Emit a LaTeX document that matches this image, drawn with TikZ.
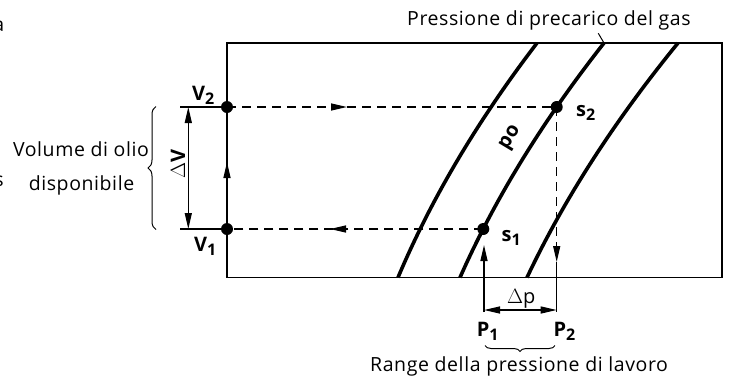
\documentclass[tikz,border=0pt]{standalone}
\usepackage{fontspec}
\setmainfont{Open Sans}[LetterSpace=3]
\usetikzlibrary{arrows.meta,decorations.markings,decorations.pathreplacing}
\newcommand{\txtsize}{\fontsize{19.5}{23}\selectfont}
\newcommand{\lblsize}{\fontsize{20}{23}\selectfont}
\newcommand{\mysubsc}[1]{\raisebox{-3.5pt}{\fontsize{16}{16}\selectfont #1}}
\tikzset{
  mytip/.tip={Triangle[length=16pt,width=7pt]},
  thinline/.style={line width=1.3pt},
  curveline/.style={line width=3.6pt},
  dashline/.style={line width=1.3pt, dash pattern=on 9pt off 6pt},
  dot/.style={circle, fill=black, inner sep=0pt, minimum size=12pt},
  txt/.style={font=\txtsize, inner sep=0pt},
  lbl/.style={font=\lblsize\bfseries, inner sep=0pt},
  bracestyle/.style={line width=1pt, decorate},
  midarrow/.style={postaction={decorate}, decoration={markings, mark=at position #1 with {\arrow{mytip}}}}
}
\begin{document}
\begin{tikzpicture}[x=1pt,y=-1pt]
\useasboundingbox (0,0) rectangle (729,376);
\clip (0,0) rectangle (729,376);
% frame
\coordinate (TL) at (227,43);
\coordinate (BR) at (722,277.5);
\draw[thinline] (TL) rectangle (BR);
% curves
\draw[curveline] (537,43) .. controls (477.4,121) and (431.1,199) .. (398,277.5);
\draw[curveline] (604,43) .. controls (542.7,121) and (494.7,199) .. (460,277.5);
\draw[curveline] (678,43) .. controls (614.4,121) and (564.1,199) .. (527,277.5);
% points
\coordinate (V2) at (227,107);
\coordinate (V1) at (227,229);
\coordinate (S2) at (556.7,107);
\coordinate (S1) at (483.3,229);
\coordinate (V2ext) at (180,107);
\coordinate (V1ext) at (180,229);
\coordinate (DV2) at (188.3,107);
\coordinate (DV1) at (188.3,229);
\coordinate (P2tip) at (556.7,262);
\coordinate (P2bot) at (556.7,312);
\coordinate (P1tip) at (484,245);
\coordinate (P1bot) at (484,312);
\coordinate (DP1) at (484,310);
\coordinate (DP2) at (556.7,310);
% extension lines
\draw[thinline] (V2ext) -- (V2);
\draw[thinline] (V1ext) -- (V1);
\draw[thinline, {mytip}-{mytip}] (DV2) -- (DV1);
% cycle
\draw[thinline, midarrow=0.549] (V1) -- (V2);
\draw[dashline, midarrow=0.364] (V2) -- (S2);
\draw[dashline, midarrow=0.598] (S1) -- (V1);
\draw[dashline, -{mytip}] (S2) -- (P2tip);
\draw[thinline] (P2tip) -- (P2bot);
\draw[thinline, -{mytip}] (P1bot) -- (P1tip);
\draw[thinline, {mytip}-{mytip}] (DP1) -- (DP2);
% dots
\node[dot] (d1) at (V2) {};
\node[dot] (d2) at (V1) {};
\node[dot] (d3) at (S2) {};
\node[dot] (d4) at (S1) {};
% leader
\coordinate (lead1) at (598.3,33.3);
\coordinate (lead2) at (604,43);
\draw[line width=1pt] (lead1) -- (lead2);
% braces
\draw[bracestyle, decoration={brace, amplitude=8pt}] (156,229.5) -- (156,106.5);
\draw[bracestyle, decoration={brace, amplitude=6pt}] (555,345.5) -- (485,345.5);
% texts
\node[txt, anchor=base west] (tpre) at (407,25.7) {Pressione di precarico del gas};
\node[txt, anchor=base west] (trange) at (370,371.7) {Range della pressione di lavoro};
\node[txt, anchor=base] (tvol) at (81,156.7) {Volume di olio};
\node[txt, anchor=base] (tdisp) at (81.5,190) {disponibile};
\node[txt, anchor=base east] (ta) at (4.5,31.7) {a};
\node[txt, anchor=base east] (ts) at (4,186.7) {s};
% labels
\node[lbl, anchor=base west] (lv2) at (192,100.7) {V\mysubsc{2}};
\node[lbl, anchor=base west] (lv1) at (194,251.7) {V\mysubsc{1}};
\node[lbl, anchor=base west] (ls2) at (576,116.7) {s\mysubsc{2}};
\node[lbl, anchor=base west] (ls1) at (501.5,241.7) {s\mysubsc{1}};
\node[lbl, anchor=base west] (lp1) at (476.7,336.7) {P\mysubsc{1}};
\node[lbl, anchor=base west] (lp2) at (553.3,336.7) {P\mysubsc{2}};
\node[txt, font=\lblsize, anchor=base west] (ldp) at (507,303.3) {$\Delta$p};
\node[txt, font=\lblsize, rotate=90] (ldv) at (178,164) {$\Delta$\textbf{V}};
\node[lbl, rotate=59] (lpo) at (511,138) {po};
\end{tikzpicture}
\end{document}
